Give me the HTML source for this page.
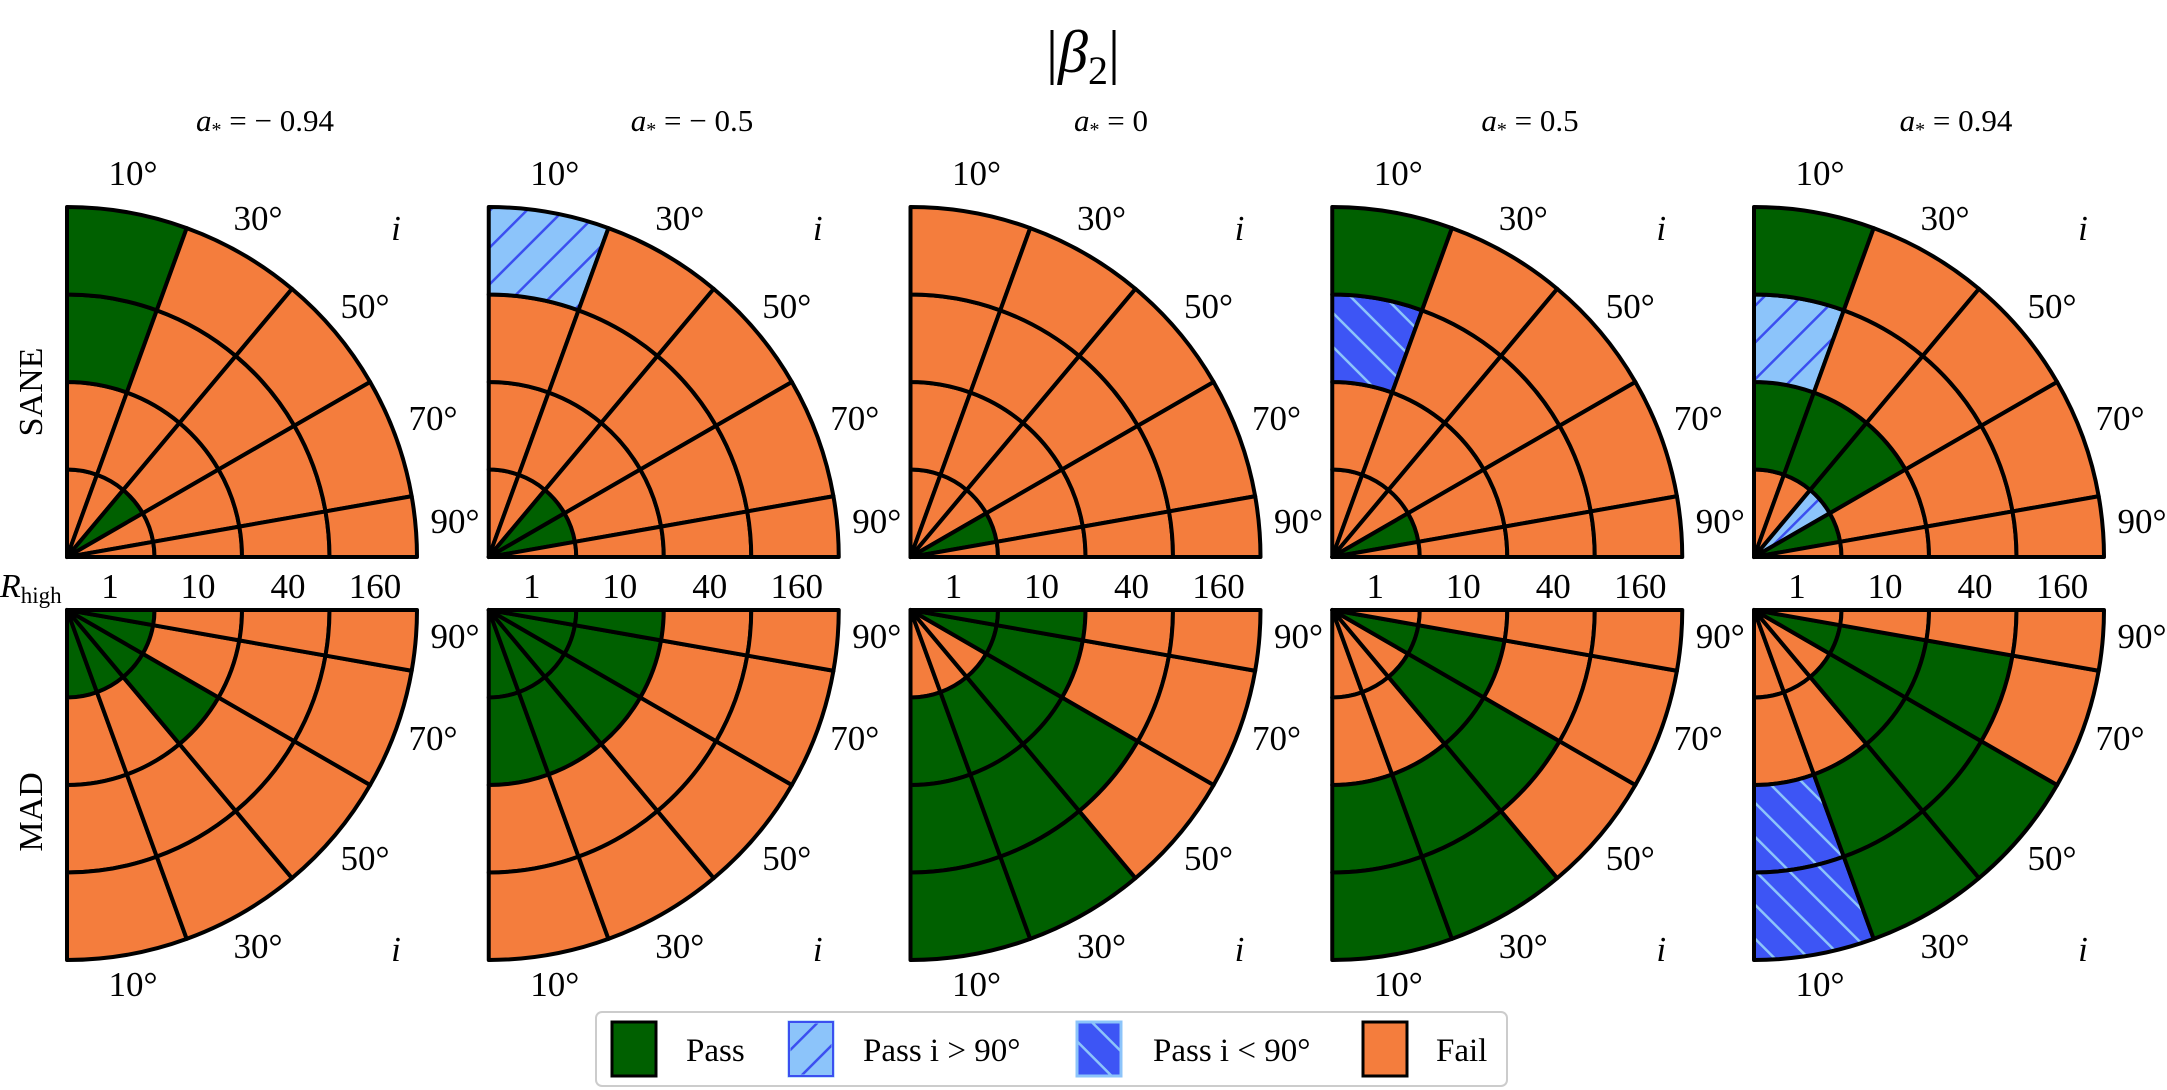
<!DOCTYPE html>
<html><head><meta charset="utf-8">
<style>
html,body{margin:0;padding:0;background:#fff;}
svg{display:block;font-family:"Liberation Serif","DejaVu Serif",serif;}
svg text{font-family:"Liberation Serif","DejaVu Serif",serif;fill:#000;}
</style></head>
<body>
<svg id="s" width="2167" height="1090" viewBox="0 0 2167 1090" xmlns="http://www.w3.org/2000/svg" font-family="Liberation Serif, DejaVu Serif, serif">
<defs>
<pattern id="lb" patternUnits="userSpaceOnUse" width="26" height="26" patternTransform="rotate(45)">
<rect width="26" height="26" fill="#8cc4fa"/><line x1="0" y1="0" x2="0" y2="26" stroke="#3b4ff0" stroke-width="5"/></pattern>
<pattern id="db" patternUnits="userSpaceOnUse" width="24" height="24" patternTransform="rotate(-45)">
<rect width="24" height="24" fill="#3d55f5"/><line x1="0" y1="0" x2="0" y2="24" stroke="#8cc4fa" stroke-width="5"/></pattern>
</defs>
<g id="cells"></g>
<text x="1083" y="72" font-size="60" text-anchor="middle" font-family="Liberation Serif, serif">|<tspan font-style="italic">β</tspan><tspan font-size="40" dy="12">2</tspan><tspan dy="-12">|</tspan></text>
<g font-size="31" text-anchor="middle" font-family="Liberation Serif, serif">
<text x="265" y="131"><tspan font-style="italic">a</tspan><tspan font-size="20" dy="5">*</tspan><tspan dy="-5"> = − 0.94</tspan></text>
<text x="692" y="131"><tspan font-style="italic">a</tspan><tspan font-size="20" dy="5">*</tspan><tspan dy="-5"> = − 0.5</tspan></text>
<text x="1111" y="131"><tspan font-style="italic">a</tspan><tspan font-size="20" dy="5">*</tspan><tspan dy="-5"> = 0</tspan></text>
<text x="1530" y="131"><tspan font-style="italic">a</tspan><tspan font-size="20" dy="5">*</tspan><tspan dy="-5"> = 0.5</tspan></text>
<text x="1956" y="131"><tspan font-style="italic">a</tspan><tspan font-size="20" dy="5">*</tspan><tspan dy="-5"> = 0.94</tspan></text>
</g>
<text font-size="34" text-anchor="middle" font-family="Liberation Serif, serif" transform="translate(42,392) rotate(-90)">SANE</text>
<text font-size="34" text-anchor="middle" font-family="Liberation Serif, serif" transform="translate(42,812) rotate(-90)">MAD</text>
<text x="0" y="597" font-size="34" font-family="Liberation Serif, serif"><tspan font-style="italic">R</tspan><tspan font-size="23" dy="6">high</tspan></text>
<g id="labels" font-size="35" text-anchor="middle" font-family="Liberation Serif, serif">
<g id="p0">
<text x="66" y="185">10°</text><text x="191" y="230">30°</text><text x="298" y="318">50°</text><text x="366" y="430">70°</text><text x="388" y="533">90°</text>
<text x="329" y="240" font-style="italic">i</text>
<text x="43" y="598">1</text><text x="131" y="598">10</text><text x="221" y="598">40</text><text x="308" y="598">160</text>
<text x="66" y="996">10°</text><text x="191" y="958">30°</text><text x="298" y="870">50°</text><text x="366" y="750">70°</text><text x="388" y="648">90°</text>
<text x="329" y="961" font-style="italic">i</text>
</g>
</g>
<rect x="596" y="1012" width="911" height="74" rx="6" fill="#fff" stroke="#cccccc" stroke-width="2"/>
<rect x="612" y="1022" width="44" height="54" fill="#006000" stroke="#000" stroke-width="3"/>
<text x="686" y="1061" font-size="33" font-family="Liberation Serif, serif">Pass</text>
<rect x="789" y="1022" width="44" height="54" fill="url(#lb)" stroke="#8cc4fa" stroke-width="3"/>
<rect x="789" y="1022" width="44" height="54" fill="none" stroke="#3b4ff0" stroke-width="2"/>
<text x="863" y="1061" font-size="33" font-family="Liberation Serif, serif">Pass i &gt; 90°</text>
<rect x="1077" y="1022" width="44" height="54" fill="url(#db)" stroke="#8cc4fa" stroke-width="3"/>
<text x="1153" y="1061" font-size="33" font-family="Liberation Serif, serif">Pass i &lt; 90°</text>
<rect x="1363" y="1022" width="44" height="54" fill="#f47d3d" stroke="#000" stroke-width="3"/>
<text x="1436" y="1061" font-size="33" font-family="Liberation Serif, serif">Fail</text>
</svg>
<script>
(function(){
var NS="http://www.w3.org/2000/svg";
var cells=document.getElementById('cells');
var TH=[0,20,40,60,80,90], RR=[0,87.5,175,262.5,350];
var COL={G:"#006000",O:"#f47d3d",LB:"url(#lb)",DB:"url(#db)"};
var top=[
 {"1,3":"G","1,4":"G","3,1":"G"},
 {"1,4":"LB","3,1":"G","4,1":"G"},
 {"4,1":"G"},
 {"1,4":"G","1,3":"DB","4,1":"G"},
 {"1,4":"G","1,3":"LB","1,2":"G","2,2":"G","3,2":"G","3,1":"LB","4,1":"G"}
];
var bot=[
 {"1,1":"G","2,1":"G","3,1":"G","4,1":"G","5,1":"G","3,2":"G"},
 {"1,1":"G","2,1":"G","3,1":"G","4,1":"G","5,1":"G","1,2":"G","2,2":"G","3,2":"G","4,2":"G","5,2":"G"},
 {"5,1":"G","5,2":"G","4,1":"G","4,2":"G","3,2":"G","3,3":"G","2,2":"G","2,3":"G","2,4":"G","1,2":"G","1,3":"G","1,4":"G"},
 {"4,1":"G","4,2":"G","3,2":"G","3,3":"G","2,3":"G","2,4":"G","1,3":"G","1,4":"G"},
 {"4,1":"G","4,2":"G","4,3":"G","3,2":"G","3,3":"G","3,4":"G","2,3":"G","2,4":"G","1,3":"DB","1,4":"DB"}
];
function P(cx,cy,s,th,r){var a=th*Math.PI/180;return [(cx+r*Math.sin(a)).toFixed(2),(cy-s*r*Math.cos(a)).toFixed(2)];}
function sector(cx,cy,s,t1,t2,r0,r1){
 var sw=s>0?1:0, a=P(cx,cy,s,t1,r1), b=P(cx,cy,s,t2,r1), c=P(cx,cy,s,t2,r0), d=P(cx,cy,s,t1,r0);
 var p="M"+a.join(" ")+" A"+r1+" "+r1+" 0 0 "+sw+" "+b.join(" ");
 if(r0>0){p+=" L"+c.join(" ")+" A"+r0+" "+r0+" 0 0 "+(1-sw)+" "+d.join(" ");} else {p+=" L"+cx+" "+cy;}
 return p+" Z";
}
for(var k=0;k<5;k++){
 var cx=67+421.75*k;
 [[557,1,top[k]],[610,-1,bot[k]]].forEach(function(cfg){
  var cy=cfg[0],s=cfg[1],m=cfg[2];
  for(var w=1;w<=5;w++)for(var r=1;r<=4;r++){
   var c=m[w+","+r]||"O";
   var e=document.createElementNS(NS,"path");
   e.setAttribute("d",sector(cx,cy,s,TH[w-1],TH[w],RR[r-1],RR[r]));
   e.setAttribute("fill",COL[c]);
   e.setAttribute("stroke","#000");e.setAttribute("stroke-width","4");e.setAttribute("stroke-linejoin","round");
   cells.appendChild(e);
  }
 });
}
var p0=document.getElementById('p0'), lab=document.getElementById('labels');
for(var k=1;k<5;k++){var g=p0.cloneNode(true);g.removeAttribute('id');g.setAttribute('transform','translate('+(67+421.75*k)+',0)');lab.appendChild(g);}
p0.setAttribute('transform','translate(67,0)');
})();
</script>
</body></html>
